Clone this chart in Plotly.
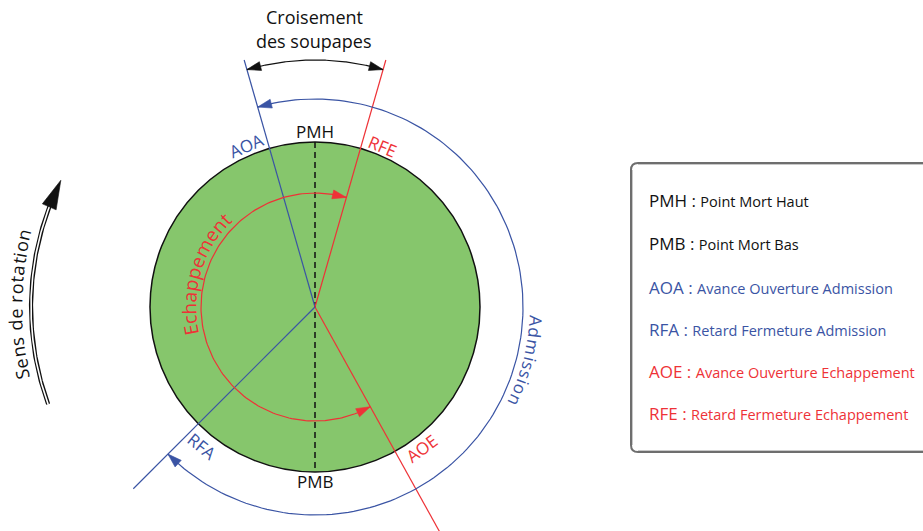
import math
import plotly.graph_objects as go

FONT = "Open Sans"
BLUE = "#3A54A4"
RED = "#EE3237"
GREEN = "#86C66C"
BLACK = "#111111"

# ---- data: crank angles in degrees, measured clockwise from PMH ----
event_names = ["AOA", "RFE", "AOE", "RFA"]
event_angles = [-16, 16, 151, 225]
event_colors = [BLUE, RED, RED, BLUE]
label_offsets = [-7, 7, -8, -6]          # where each label sits relative to its line
label_radii = [175, 174, 177, 179]

dead_centres = ["PMH", "PMB"]
dead_angles = [0, 180]

admission_span = [-16, 225]    # AOA -> RFA
exhaust_span = [151, 376]      # AOE -> RFE (one turn later)
overlap_span = [-16, 16]       # AOA -> RFE

legend_abbr = ["PMH", "PMB", "AOA", "RFA", "AOE", "RFE"]
legend_text = ["Point Mort Haut", "Point Mort Bas", "Avance Ouverture Admission",
               "Retard Fermeture Admission", "Avance Ouverture Echappement",
               "Retard Fermeture Echappement"]
legend_colors = [BLACK, BLACK, BLUE, BLUE, RED, RED]

# ---- geometry (pixels) ----
CX, CY = 315, 307
R_DISC = 165
R_LINE = 257
R_ADM = 208
R_ECH = 114
R_CROSS = 247
R_ROT = 284


def pt(r, a):
    t = math.radians(a)
    return CX + r * math.sin(t), CY - r * math.cos(t)


def arc(r, a0, a1, n=160):
    xs, ys = [], []
    for i in range(n + 1):
        x, y = pt(r, a0 + (a1 - a0) * i / n)
        xs.append(x)
        ys.append(y)
    return xs, ys


def head(r, a_tip, sign, length, half):
    tx, ty = pt(r, a_tip)
    bx, by = pt(r, a_tip - sign * math.degrees(length / r))
    dx, dy = tx - bx, ty - by
    L = math.hypot(dx, dy)
    ux, uy = dx / L, dy / L
    px, py = -uy, ux
    return ([tx, bx + px * half, bx - px * half, tx],
            [ty, by + py * half, by - py * half, ty])


fig = go.Figure()
annotations = []


def add_line(xs, ys, color, width=1.2, dash=None):
    fig.add_trace(go.Scatter(x=xs, y=ys, mode="lines", hoverinfo="skip",
                             line=dict(color=color, width=width, dash=dash)))


def add_head(r, a_tip, sign, color, length=14, half=4.5):
    xs, ys = head(r, a_tip, sign, length, half)
    fig.add_trace(go.Scatter(x=xs, y=ys, mode="lines", fill="toself", fillcolor=color,
                             hoverinfo="skip", line=dict(color=color, width=0.6)))


def text(x, y, s, size, color, angle=0):
    annotations.append(dict(x=x, y=y, xref="x", yref="y", text=s, showarrow=False,
                            textangle=angle, xanchor="center", yanchor="middle",
                            font=dict(family=FONT, size=size, color=color)))


CHAR_W = {"a": .56, "b": .61, "c": .48, "d": .61, "e": .56, "f": .34, "g": .55,
          "h": .62, "i": .26, "m": .93, "n": .62, "o": .6, "p": .61, "r": .41,
          "s": .48, "t": .36, "A": .63, "E": .55, "S": .55, " ": .26}


def curved_text(s, r, a_first, a_last, size, color):
    widths = [CHAR_W.get(c, .55) for c in s]
    centers, acc = [], 0
    for w in widths:
        centers.append(acc + w / 2)
        acc += w
    c0, c1 = centers[0], centers[-1]
    for ch, c in zip(s, centers):
        if ch == " ":
            continue
        a = a_first + (a_last - a_first) * (c - c0) / (c1 - c0)
        x, y = pt(r, a)
        text(x, y, ch, size, color, angle=((a + 180) % 360) - 180)


# disc
fig.add_shape(type="circle", xref="x", yref="y", layer="below",
              x0=CX - R_DISC, x1=CX + R_DISC, y0=CY - R_DISC, y1=CY + R_DISC,
              fillcolor=GREEN, line=dict(color=BLACK, width=1.5))

# PMH - PMB dashed axis
x0, y0 = pt(R_DISC, dead_angles[0])
x1, y1 = pt(R_DISC, dead_angles[1])
add_line([x0, x1], [y0, y1], BLACK, width=1.5, dash="6px,4px")

# valve event lines
for a, col in zip(event_angles, event_colors):
    xe, ye = pt(R_LINE, a)
    add_line([CX, xe], [CY, ye], col, width=1.2)

# admission arc (blue, outside)
xs, ys = arc(R_ADM, admission_span[0], admission_span[1])
add_line(xs, ys, BLUE)
add_head(R_ADM, admission_span[0], -1, BLUE)
add_head(R_ADM, admission_span[1], 1, BLUE)

# exhaust arc (red, inside)
xs, ys = arc(R_ECH, exhaust_span[0], exhaust_span[1])
add_line(xs, ys, RED)
add_head(R_ECH, exhaust_span[0], -1, RED)
add_head(R_ECH, exhaust_span[1], 1, RED)

# overlap arc (black)
xs, ys = arc(R_CROSS, overlap_span[0], overlap_span[1])
add_line(xs, ys, BLACK)
add_head(R_CROSS, overlap_span[0], -1, BLACK)
add_head(R_CROSS, overlap_span[1], 1, BLACK)

# rotation direction arrow (double line)
rot_start, rot_tip = -110, -63.5
rot_base = rot_tip - math.degrees(26 / R_ROT)
xs, ys = arc(R_ROT, rot_start, rot_base + 0.5)
add_line(xs, ys, BLACK, width=4.2)
add_line(xs, ys, "white", width=1.6)
add_head(R_ROT, rot_tip, 1, BLACK, length=29, half=7.5)

# event labels
for name, a, off, r, col in zip(event_names, event_angles, label_offsets, label_radii, event_colors):
    la = a + off
    x, y = pt(r, la)
    ang = la if -90 <= ((la + 180) % 360) - 180 <= 90 else la - 180
    ang = ((ang + 180) % 360) - 180
    text(x, y, name, 17, col, angle=ang)

for name, a, r in zip(dead_centres, dead_angles, [176, 174]):
    x, y = pt(r, a)
    text(x, y, name, 17, BLACK)

# curved captions
curved_text("Echappement", 126, -100.5, -45.5, 19, RED)
curved_text("Admission", 221, 93.6, 115.0, 17, BLUE)
curved_text("Sens de rotation", 300, -103.0, -76.0, 18, BLACK)

# overlap caption
text(314, 17, "Croisement", 18, BLACK)
text(314, 41, "des soupapes", 18, BLACK)

# legend box
bx0, by0, bx1, by1, rr = 631, 163, 940, 452, 7
path = (f"M {bx0 + rr},{by0} L {bx1 - rr},{by0} Q {bx1},{by0} {bx1},{by0 + rr} "
        f"L {bx1},{by1 - rr} Q {bx1},{by1} {bx1 - rr},{by1} L {bx0 + rr},{by1} "
        f"Q {bx0},{by1} {bx0},{by1 - rr} L {bx0},{by0 + rr} Q {bx0},{by0} {bx0 + rr},{by0} Z")
fig.add_shape(type="path", path=path, xref="x", yref="y",
              line=dict(color="#6E6E6E", width=2), fillcolor="rgba(0,0,0,0)")
ins = 1.5
path2 = (f"M {bx0 + rr},{by0 + ins} L {bx1 - rr},{by0 + ins} "
         f"M {bx0 + ins},{by0 + rr} L {bx0 + ins},{by1 - rr} "
         f"M {bx0 + rr},{by1 - ins} L {bx1 - rr},{by1 - ins}")
fig.add_shape(type="path", path=path2, xref="x", yref="y",
              line=dict(color="#C8C8C8", width=1))

legend_y = [200.5, 243, 287, 329, 371, 413]
for ab, desc, col, yy in zip(legend_abbr, legend_text, legend_colors, legend_y):
    annotations.append(dict(
        x=647, y=yy, xref="x", yref="y", showarrow=False, xanchor="left", yanchor="middle",
        text=f"<span style='font-size:17px'>{ab} :</span> <span style='font-size:14.5px'>{desc}</span>",
        font=dict(family=FONT, size=17, color=col)))

fig.update_layout(
    width=923, height=531, margin=dict(l=0, r=0, t=0, b=0),
    paper_bgcolor="white", plot_bgcolor="white", showlegend=False,
    xaxis=dict(range=[0, 923], visible=False, fixedrange=True),
    yaxis=dict(range=[531, 0], visible=False, fixedrange=True),
    annotations=annotations,
)

fig.write_html("out.html", config={"displayModeBar": False},
               post_script="document.body.style.margin='0';document.body.style.overflow='hidden';")
